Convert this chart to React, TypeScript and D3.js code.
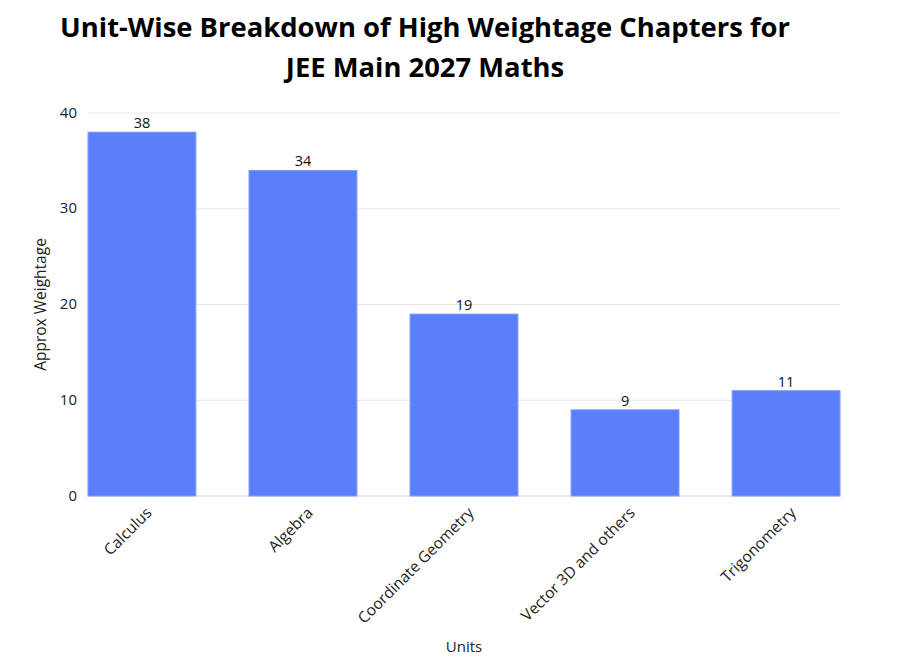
import React, { useEffect, useRef } from 'react';
import * as d3 from 'd3';

const units = ['Calculus', 'Algebra', 'Coordinate Geometry', 'Vector 3D and others', 'Trigonometry'];
const weightage = [38, 34, 19, 9, 11];
const yTicks = [0, 10, 20, 30, 40];

const titleLines = ['Unit-Wise Breakdown of High Weightage Chapters for', 'JEE Main 2027 Maths'];

const font = "'Open Sans', 'Noto Sans', sans-serif";
const small = '15.5px';

const App: React.FC = () => {
  const ref = useRef<SVGSVGElement>(null);

  useEffect(() => {
    if (!ref.current) return;
    const svg = d3.select(ref.current);
    svg.selectAll('*').remove();

    const margin = { top: 113, right: 72, bottom: 164, left: 88 };
    const width = 912 - margin.left - margin.right;
    const height = 660 - margin.top - margin.bottom;

    // title
    svg
      .append('g')
      .selectAll('text')
      .data(titleLines)
      .enter()
      .append('text')
      .attr('x', 425)
      .attr('y', (d, i) => 37 + i * 40)
      .attr('text-anchor', 'middle')
      .style('font-family', font)
      .style('font-weight', 700)
      .style('font-size', '27.4px')
      .style('fill', '#000')
      .text((d) => d);

    const g = svg.append('g').attr('transform', `translate(${margin.left},${margin.top})`);

    const x = d3.scaleBand<string>().domain(units).range([0, width]).paddingInner(0.33).paddingOuter(0);
    const y = d3.scaleLinear().domain([0, 40]).range([height, 0]);

    // gridlines
    g.append('g')
      .selectAll('line')
      .data(yTicks)
      .enter()
      .append('line')
      .attr('x1', 0)
      .attr('x2', width)
      .attr('y1', (d) => y(d))
      .attr('y2', (d) => y(d))
      .attr('stroke', (d) => (d === 0 ? '#d6d6d6' : '#e8e8e8'))
      .attr('stroke-width', 1);

    // y tick labels
    g.append('g')
      .selectAll('text')
      .data(yTicks)
      .enter()
      .append('text')
      .attr('x', -11)
      .attr('y', (d) => y(d))
      .attr('dy', '0.3em')
      .attr('text-anchor', 'end')
      .style('font-family', font)
      .style('font-size', '15px')
      .style('fill', '#222')
      .text((d) => d);

    // bars
    g.append('g')
      .selectAll('rect')
      .data(units)
      .enter()
      .append('rect')
      .attr('x', (d) => x(d)!)
      .attr('y', (d, i) => y(weightage[i]))
      .attr('width', x.bandwidth())
      .attr('height', (d, i) => height - y(weightage[i]))
      .attr('fill', '#5b7ffa')
      .attr('stroke', '#7d9bfb')
      .attr('stroke-width', 1);

    // value labels
    g.append('g')
      .selectAll('text')
      .data(units)
      .enter()
      .append('text')
      .attr('x', (d) => x(d)! + x.bandwidth() / 2)
      .attr('y', (d, i) => y(weightage[i]) - 4)
      .attr('text-anchor', 'middle')
      .style('font-family', font)
      .style('font-size', '14.5px')
      .style('fill', '#111')
      .text((d, i) => weightage[i]);

    // x tick labels
    g.append('g')
      .selectAll('text')
      .data(units)
      .enter()
      .append('text')
      .attr('transform', (d) => `translate(${x(d)! + x.bandwidth() / 2 + 7},${height + 14}) rotate(-45)`)
      .attr('text-anchor', 'end')
      .attr('dy', '0.35em')
      .style('font-family', font)
      .style('font-size', small)
      .style('fill', '#222')
      .text((d) => d);

    // axis titles
    svg
      .append('text')
      .attr('x', margin.left + width / 2)
      .attr('y', 652)
      .attr('text-anchor', 'middle')
      .style('font-family', font)
      .style('font-size', '15px')
      .style('fill', '#222')
      .text('Units');

    svg
      .append('text')
      .attr('transform', `translate(46,${margin.top + height / 2}) rotate(-90)`)
      .attr('text-anchor', 'middle')
      .style('font-family', font)
      .style('font-size', small)
      .style('fill', '#222')
      .text('Approx Weightage');
  }, []);

  return <svg width={912} height={660} ref={ref} style={{ display: 'block', position: 'absolute', left: 0, top: 0 }} />;
};

export default App;
